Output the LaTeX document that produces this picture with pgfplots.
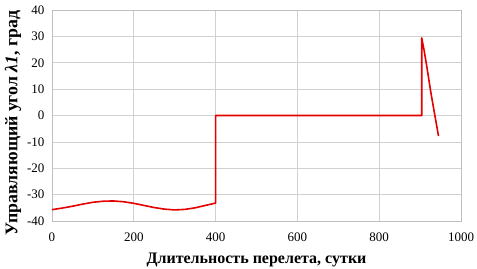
\documentclass[border=0pt]{standalone}
\usepackage{fontspec}
\setmainfont{Liberation Serif}
\usepackage{pgfplots}
\pgfplotsset{compat=1.18}
\begin{document}
\begin{tikzpicture}[x=1pt,y=1pt]
\useasboundingbox (-52pt,-47pt) rectangle (425pt,221pt);
\begin{axis}[
  at={(0pt,0pt)}, anchor=south west,
  scale only axis,
  width=409pt, height=211pt,
  xmin=0, xmax=1000, ymin=-40, ymax=40,
  xtick={0,200,...,1000}, ytick={-40,-30,...,40},
  grid=major,
  grid style={color=black!18, line width=0.6pt},
  axis line style={color=black!25, line width=0.6pt},
  tick style={draw=none},
  /pgf/number format/assume math mode=true,
  /pgf/number format/1000 sep={},
  tick label style={font=\fontsize{13}{15}\selectfont},
  xticklabel style={anchor=center, yshift=-16pt},
  yticklabel style={anchor=east, xshift=-4pt},
  xlabel={\textbf{Длительность перелета, сутки}},
  ylabel={\textbf{Управляющий угол \textit{λ1}, град}},
  xlabel style={font=\fontsize{16}{18}\selectfont, at={(axis description cs:0.5,-0.185)}, anchor=center},
  ylabel style={font=\fontsize{17.8}{19}\selectfont, at={(axis description cs:-0.0954,0.465)}, anchor=center},
]
\addplot[color=red!90!black, line width=1.6pt, line join=round] coordinates {
(0,-35.7) (25,-35.1) (50,-34.4) (75,-33.6) (100,-32.9) (125,-32.5) (150,-32.4)
(175,-32.7) (200,-33.3) (225,-34.1) (250,-34.9) (275,-35.5) (300,-35.8)
(325,-35.6) (350,-35.0) (375,-34.1) (400,-33.2)
(400,0) (904,0) (904,29.4) (910,24.5) (918,17) (926,9) (935,1) (945,-7.8)
};
\end{axis}
\end{tikzpicture}
\end{document}
